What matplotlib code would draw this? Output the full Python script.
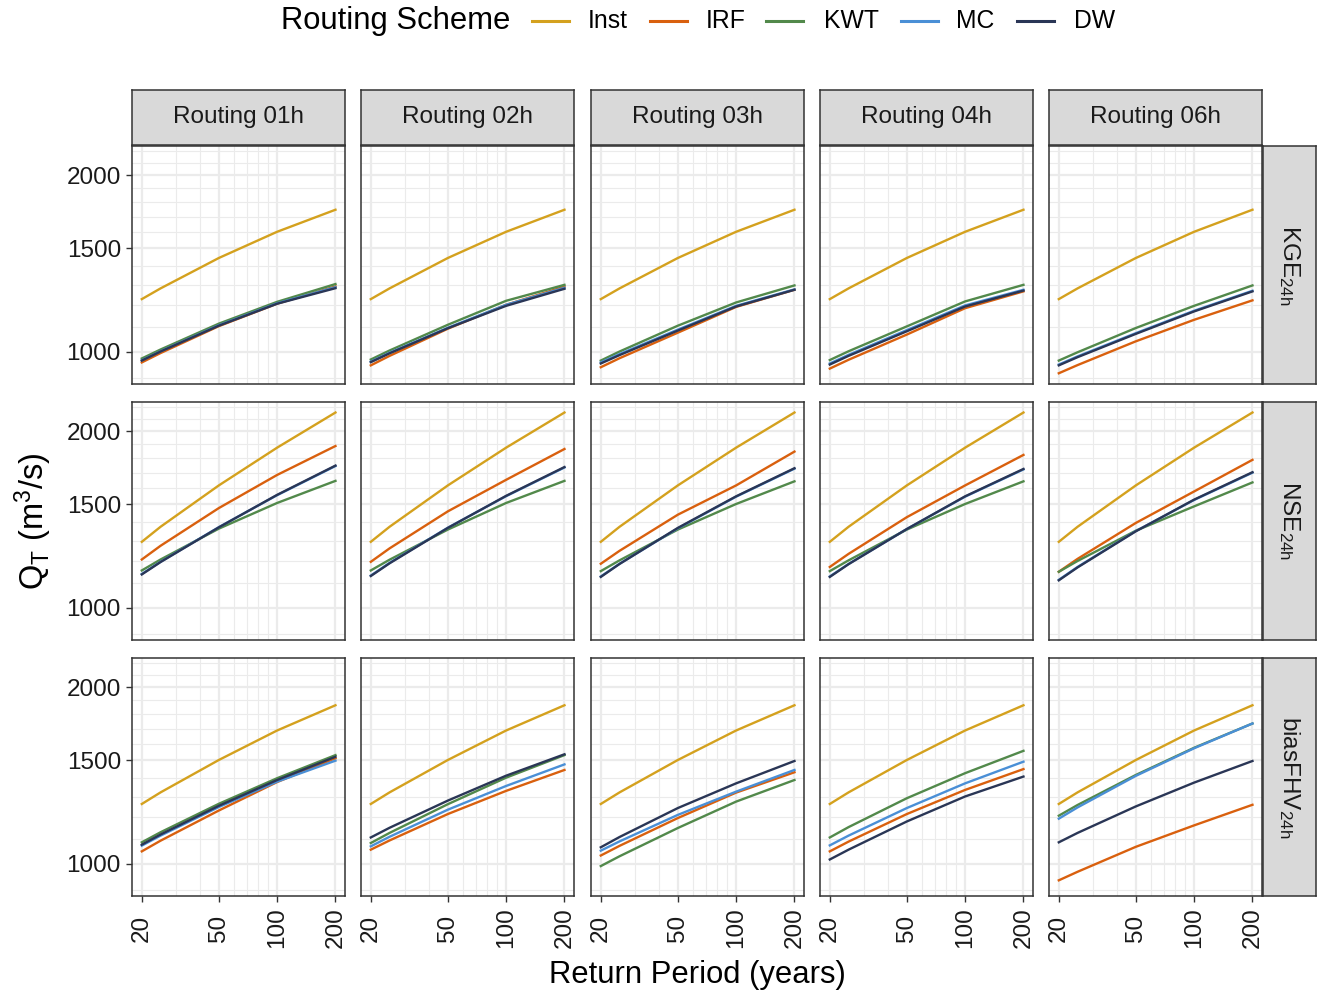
import matplotlib
matplotlib.use("Agg")
import matplotlib.pyplot as plt
from matplotlib.lines import Line2D

plt.rcParams['font.family'] = ['Liberation Sans', 'DejaVu Sans']
plt.rcParams['mathtext.fontset'] = 'custom'
plt.rcParams['mathtext.rm'] = 'Liberation Sans'
plt.rcParams['mathtext.it'] = 'Liberation Sans:italic'

# return periods (years)
return_periods = [20, 25, 50, 100, 200]
routings = ['Routing 01h', 'Routing 02h', 'Routing 03h', 'Routing 04h', 'Routing 06h']
metrics = [r'$\mathregular{KGE_{24h}}$', r'$\mathregular{NSE_{24h}}$', r'$\mathregular{biasFHV_{24h}}$']
schemes = ['Inst', 'IRF', 'KWT', 'MC', 'DW']
colors = ['#D4A11E', '#D9600E', '#52894B', '#4A8FD6', '#2A3656']

# Inst (no routing) is the same in every column
kge_inst = [1229, 1282, 1445, 1602, 1747]
nse_inst = [1295, 1374, 1617, 1876, 2154]
fhv_inst = [1264, 1323, 1503, 1688, 1864]

# one row per routing time step
kge_irf = [[958, 994, 1105, 1207, 1292],
           [947, 983, 1094, 1202, 1291],
           [940, 974, 1077, 1192, 1275],
           [935, 968, 1069, 1186, 1267],
           [918, 948, 1041, 1133, 1223]]
kge_kwt = [[973, 1008, 1116, 1216, 1304],
           [969, 1004, 1111, 1221, 1300],
           [965, 1000, 1107, 1213, 1297],
           [967, 1001, 1104, 1218, 1300],
           [965, 997, 1097, 1197, 1297]]
kge_mc = [[966, 1001, 1109, 1209, 1288],
          [961, 995, 1098, 1202, 1285],
          [958, 990, 1090, 1197, 1277],
          [954, 987, 1088, 1199, 1275],
          [950, 981, 1075, 1174, 1270]]
kge_dw = [[965, 1000, 1107, 1207, 1283],
          [959, 993, 1096, 1197, 1280],
          [954, 986, 1086, 1194, 1275],
          [950, 983, 1083, 1194, 1271],
          [947, 978, 1072, 1171, 1267]]

nse_irf = [[1208, 1275, 1479, 1685, 1888],
           [1197, 1262, 1460, 1653, 1866],
           [1188, 1250, 1441, 1617, 1847],
           [1173, 1235, 1427, 1617, 1823],
           [1151, 1211, 1395, 1579, 1788]]
nse_kwt = [[1157, 1208, 1364, 1509, 1646],
           [1157, 1207, 1359, 1509, 1646],
           [1154, 1204, 1359, 1503, 1643],
           [1154, 1204, 1359, 1503, 1643],
           [1151, 1201, 1353, 1489, 1636]]
nse_mc = [[1141, 1197, 1372, 1556, 1745],
          [1134, 1192, 1369, 1550, 1735],
          [1130, 1188, 1366, 1547, 1727],
          [1130, 1187, 1362, 1547, 1722],
          [1115, 1173, 1351, 1527, 1700]]
nse_dw = [[1139, 1196, 1371, 1558, 1748],
          [1132, 1190, 1368, 1552, 1738],
          [1128, 1187, 1368, 1549, 1730],
          [1128, 1186, 1362, 1549, 1725],
          [1113, 1171, 1350, 1529, 1703]]

fhv_irf = [[1049, 1094, 1232, 1378, 1513],
           [1056, 1095, 1215, 1331, 1445],
           [1032, 1072, 1196, 1322, 1432],
           [1049, 1090, 1215, 1336, 1450],
           [936, 968, 1068, 1162, 1260]]
fhv_kwt = [[1087, 1131, 1265, 1399, 1532],
           [1084, 1128, 1263, 1402, 1532],
           [990, 1029, 1150, 1276, 1389],
           [1108, 1154, 1293, 1427, 1558],
           [1207, 1259, 1417, 1577, 1735]]
fhv_mc = [[1073, 1116, 1249, 1380, 1499],
          [1070, 1111, 1236, 1357, 1477],
          [1052, 1091, 1211, 1327, 1445],
          [1074, 1116, 1244, 1371, 1493],
          [1193, 1247, 1412, 1574, 1735]]
fhv_dw = [[1077, 1121, 1255, 1389, 1522],
          [1108, 1151, 1281, 1413, 1537],
          [1066, 1110, 1244, 1371, 1497],
          [1016, 1056, 1180, 1302, 1408],
          [1087, 1128, 1252, 1375, 1497]]

rows = [
    (kge_inst, kge_irf, kge_kwt, kge_mc, kge_dw),
    (nse_inst, nse_irf, nse_kwt, nse_mc, nse_dw),
    (fhv_inst, fhv_irf, fhv_kwt, fhv_mc, fhv_dw),
]

W, H = 1318, 994
fig = plt.figure(figsize=(W / 100, H / 100), dpi=100)


def box(l, t, w, h):
    return [l / W, 1 - (t + h) / H, w / W, h / H]


col_left = [132, 361, 591, 820, 1049]
row_top = [146, 402, 658]
pw, ph = 213, 238
border = '#333333'
grid_c = '#EBEBEB'

for i, series in enumerate(rows):
    inst, irf, kwt, mc, dw = series
    for j in range(5):
        ax = fig.add_axes(box(col_left[j], row_top[i], pw, ph))
        ax.set_xscale('log')
        ax.set_yscale('log')
        ax.set_xlim(17.8, 224)
        ax.set_ylim(880, 2245)
        # grid
        for v in [30, 40, 60, 70, 80, 90]:
            ax.axvline(v, color=grid_c, lw=0.8, zorder=0)
        for v in [20, 50, 100, 200]:
            ax.axvline(v, color=grid_c, lw=1.6, zorder=0)
        for v in [900, 1100, 1200, 1300, 1400, 1600, 1700, 1800, 1900, 2100, 2200]:
            ax.axhline(v, color=grid_c, lw=0.8, zorder=0)
        for v in [1000, 1500, 2000]:
            ax.axhline(v, color=grid_c, lw=1.6, zorder=0)

        ax.plot(return_periods, inst, color=colors[0], lw=1.7)
        ax.plot(return_periods, irf[j], color=colors[1], lw=1.7)
        ax.plot(return_periods, kwt[j], color=colors[2], lw=1.7)
        ax.plot(return_periods, mc[j], color=colors[3], lw=1.7)
        ax.plot(return_periods, dw[j], color=colors[4], lw=1.7)

        ax.xaxis.set_minor_locator(matplotlib.ticker.NullLocator())
        ax.yaxis.set_minor_locator(matplotlib.ticker.NullLocator())
        ax.set_xticks([20, 50, 100, 200])
        ax.set_yticks([1000, 1500, 2000])
        for s in ax.spines.values():
            s.set_color(border)
            s.set_linewidth(1.1)
        ax.tick_params(colors=border, length=4, width=1.0, labelcolor='#1a1a1a', labelsize=17.5)
        if j == 0:
            ax.set_yticklabels(['1000', '1500', '2000'])
            ax.tick_params(axis='y', pad=4)
        else:
            ax.tick_params(axis='y', left=False, labelleft=False)
        if i == 2:
            ax.set_xticklabels(['20', '50', '100', '200'])
            ax.tick_params(axis='x', pad=19, labelrotation=90)
            for lab in ax.get_xticklabels():
                lab.set_va('center')
        else:
            ax.tick_params(axis='x', bottom=False, labelbottom=False)

# top strips
for j in range(5):
    sa = fig.add_axes(box(col_left[j], 90, pw, 55))
    sa.set_facecolor('#D9D9D9')
    sa.set_xticks([])
    sa.set_yticks([])
    for s in sa.spines.values():
        s.set_color(border)
        s.set_linewidth(1.1)
    sa.text(0.5, 0.5, routings[j], ha='center', va='center', fontsize=17.5,
            color='#1a1a1a', transform=sa.transAxes)

# right strips
for i in range(3):
    sa = fig.add_axes(box(1263, row_top[i], 53, ph))
    sa.set_facecolor('#D9D9D9')
    sa.set_xticks([])
    sa.set_yticks([])
    for s in sa.spines.values():
        s.set_color(border)
        s.set_linewidth(1.1)
    sa.text(0.5, 0.5, metrics[i], ha='center', va='center', fontsize=17.5,
            rotation=-90, color='#1a1a1a', transform=sa.transAxes)

# axis titles
fig.text(33 / W, 1 - 521 / H, r'$\mathregular{Q_T\ (m^3/s)}$', rotation=90,
         ha='center', va='center', fontsize=23.5)
fig.text(697 / W, 1 - 975 / H, 'Return Period (years)', ha='center', va='center', fontsize=22.3)

# legend
ly = 1 - 21 / H
fig.text(281 / W, ly, 'Routing Scheme', ha='left', va='center', fontsize=22.3)
key_x = [532, 650, 766, 901, 1017]
lab_x = [588, 706, 824, 956, 1074]
for k in range(5):
    fig.add_artist(Line2D([key_x[k] / W, (key_x[k] + 37) / W], [ly, ly],
                          color=colors[k], lw=2.2, transform=fig.transFigure))
    fig.text(lab_x[k] / W, ly, schemes[k], ha='left', va='center', fontsize=17.8)

fig.savefig('out.png', dpi=100)
